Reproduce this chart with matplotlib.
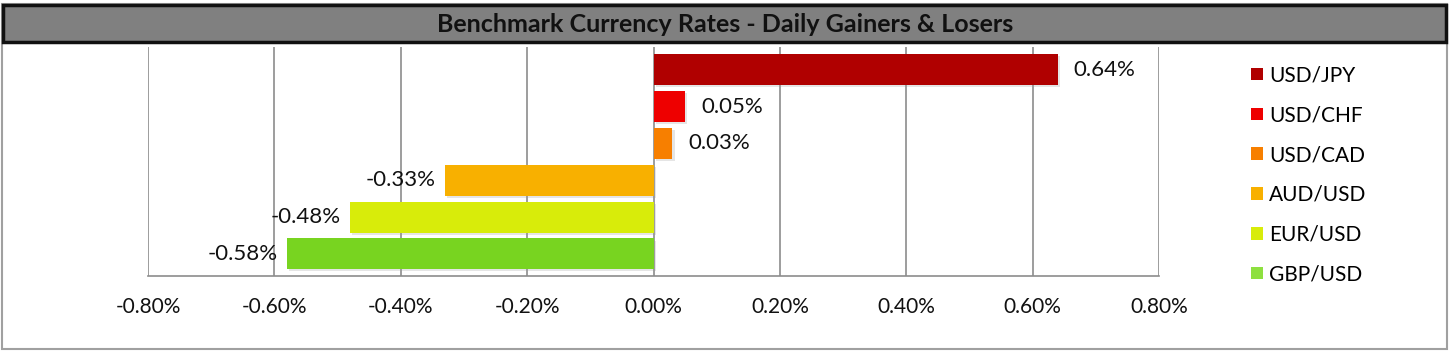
import matplotlib
matplotlib.use("Agg")
import matplotlib.pyplot as plt
from matplotlib.patches import Rectangle, Patch
from matplotlib.ticker import FuncFormatter
import matplotlib.patheffects as pe

plt.rcParams['font.family'] = ['Lato', 'DejaVu Sans']

pairs = ['USD/JPY', 'USD/CHF', 'USD/CAD', 'AUD/USD', 'EUR/USD', 'GBP/USD']
changes = [0.64, 0.05, 0.03, -0.33, -0.48, -0.58]
colors = ['#B00000', '#EE0000', '#F77F00', '#F8B000', '#D8EC0A', '#78D420']
legend_colors = ['#B00000', '#EE0000', '#F77F00', '#F8B000', '#D8EC0A', '#8EE040']
xticks = [-0.8, -0.6, -0.4, -0.2, 0.0, 0.2, 0.4, 0.6, 0.8]

fig = plt.figure(figsize=(14.51, 3.55), dpi=100)
ax = fig.add_axes([0.102, 0.2225, 0.6968, 0.645])

ypos = list(range(len(pairs)))
bars = ax.barh(ypos, changes, height=0.84, color=colors, zorder=3)
for b in bars:
    b.set_path_effects([pe.SimplePatchShadow(offset=(1.5, -1.5), shadow_rgbFace='#999999', alpha=0.25), pe.Normal()])

for y, v in zip(ypos, changes):
    if v >= 0:
        ax.text(v + 0.025, y, f'{v:.2f}%', va='center', ha='left', fontsize=16, color='#111111')
    else:
        ax.text(v - 0.015, y, f'{v:.2f}%', va='center', ha='right', fontsize=16, color='#111111')

ax.set_xlim(-0.8, 0.8)
ax.set_ylim(len(pairs) - 0.4, -0.62)
ax.set_xticks(xticks)
ax.xaxis.set_major_formatter(FuncFormatter(lambda x, p: f'{x:.2f}%'))
ax.set_yticks([])
ax.tick_params(axis='x', length=0, pad=15, labelsize=15, colors='#111111')
ax.grid(axis='x', color='#8C8C8C', linewidth=1.2, zorder=0)
for s in ['top', 'left', 'right']:
    ax.spines[s].set_visible(False)
ax.spines['bottom'].set_color('#8C8C8C')
ax.spines['bottom'].set_linewidth(1.2)

handles = [Patch(facecolor=c, label=l) for c, l in zip(legend_colors, pairs)]
fig.legend(handles=handles, loc='upper left', bbox_to_anchor=(0.8495, 0.8685),
           frameon=False, fontsize=15, handlelength=0.55, handleheight=0.55,
           handletextpad=0.3, labelspacing=0.95)

# outer border and title bar
fig.patches.append(Rectangle((2 / 1451, 6 / 355), 1445 / 1451, 345 / 355, transform=fig.transFigure,
                             fill=False, edgecolor='#A0A0A0', linewidth=1.5))
fig.patches.append(Rectangle((3 / 1451, 1 - 42 / 355), 1443 / 1451, 37 / 355, transform=fig.transFigure,
                             facecolor='#808080', edgecolor='#111111', linewidth=2.5))
fig.text(0.5, 1 - 24 / 355, 'Benchmark Currency Rates - Daily Gainers & Losers', ha='center', va='center',
         fontsize=18, fontweight='bold', color='#111111')

fig.savefig('out.png', dpi=100)
